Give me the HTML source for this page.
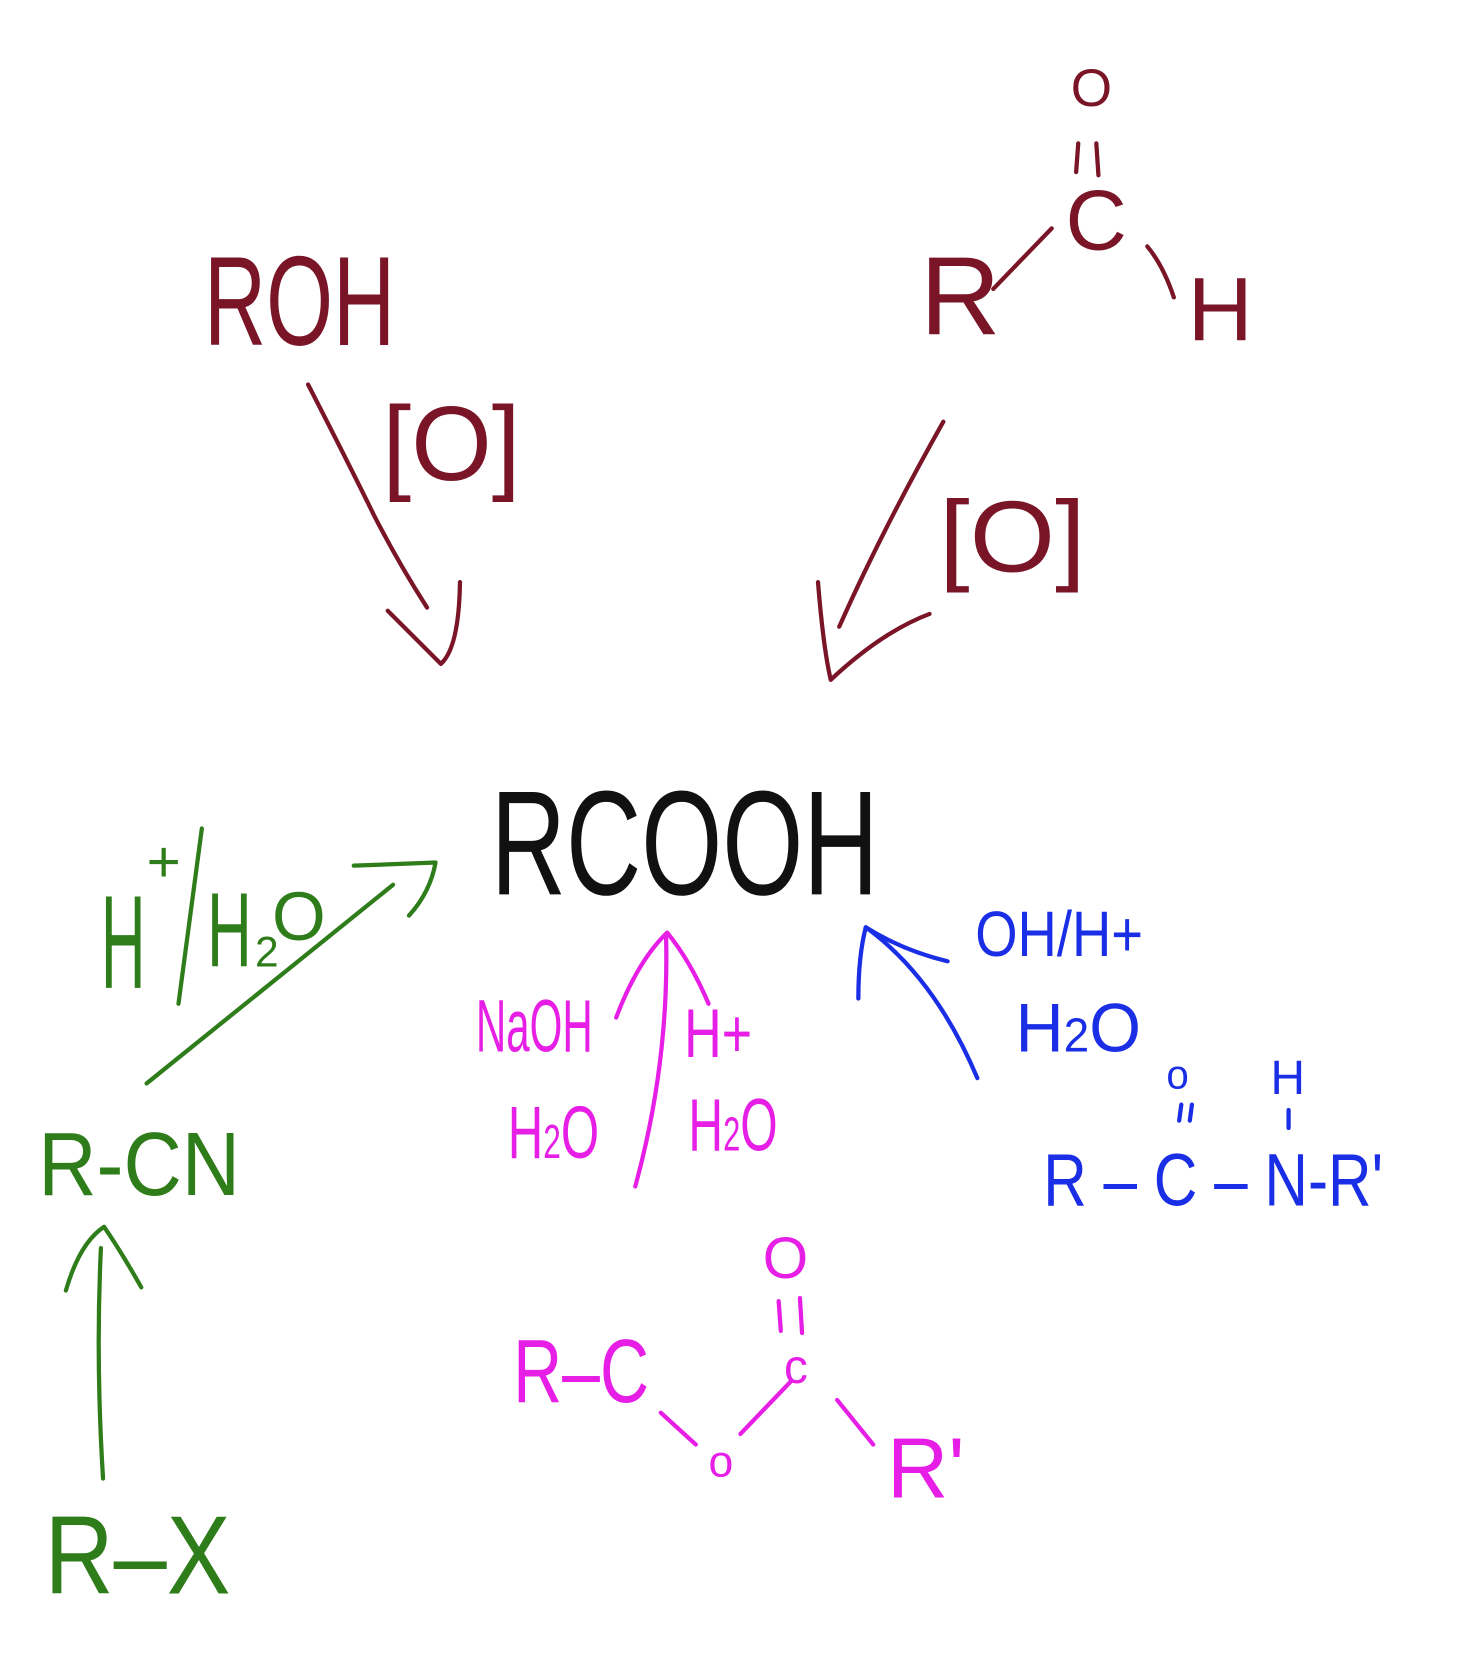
<!DOCTYPE html>
<html><head><meta charset="utf-8"><style>
html,body{margin:0;padding:0;background:#fff;}
svg{display:block;}
text{font-family:"Liberation Sans",sans-serif;}
</style></head><body>
<svg width="1466" height="1657" viewBox="0 0 1380 1560" preserveAspectRatio="none" xmlns="http://www.w3.org/2000/svg">
<g fill="none" stroke-linecap="round" stroke-linejoin="round" stroke-width="4">
<!-- maroon -->
<g stroke="#7a1528">
<path d="M290,362 Q330,440 352,485 Q375,530 402,572"/>
<path d="M365,575 L415,625 Q432,610 433,548"/>
<path d="M888,397 Q830,500 790,590"/>
<path d="M770,548 Q775,610 782,640 Q830,595 875,578"/>
<path d="M935,272 L990,215"/>
<path d="M1080,232 Q1095,250 1105,280"/>
<path d="M1015,135 L1013,162 M1032,135 L1034,165"/>
</g>
<!-- green -->
<g stroke="#2e7d1a">
<path d="M168,945 L190,780"/>
<path d="M138,1020 L370,833"/>
<path d="M333,815 L410,812 Q405,840 385,862"/>
<path d="M97,1392 Q90,1280 95,1175"/>
<path d="M62,1215 Q75,1170 98,1155 Q115,1180 133,1212"/>
</g>
<!-- magenta -->
<g stroke="#e61ee6">
<path d="M598,1117 Q630,1000 627,882"/>
<path d="M580,958 Q600,905 628,878 Q650,905 667,945"/>
<path d="M622,1330 L655,1360"/>
<path d="M697,1350 L745,1300"/>
<path d="M788,1318 L822,1360"/>
<path d="M733,1225 L735,1253 M753,1222 L755,1255"/>
</g>
<!-- blue -->
<g stroke="#1a2ee6">
<path d="M920,1015 Q880,920 815,873"/>
<path d="M808,940 Q808,900 815,873 Q850,895 892,905"/>
<path d="M1112,1040 L1110,1055 M1122,1040 L1120,1055"/>
<path d="M1213,1045 L1213,1062"/>
</g>
</g>
<!-- maroon text -->
<g fill="#7a1528">
<text x="192" y="325" font-size="120" textLength="180" lengthAdjust="spacingAndGlyphs">ROH</text>
<text x="360" y="452" font-size="100" textLength="130" lengthAdjust="spacingAndGlyphs">[O]</text>
<text x="884" y="538" font-size="95" textLength="138" lengthAdjust="spacingAndGlyphs">[O]</text>
<text x="1008" y="100" font-size="50">O</text>
<text x="1003" y="235" font-size="80">C</text>
<text x="866" y="315" font-size="105">R</text>
<text x="1118" y="320" font-size="85">H</text>
</g>
<text x="462" y="842" font-size="140" fill="#111" textLength="365" lengthAdjust="spacingAndGlyphs">RCOOH</text>
<!-- green text -->
<g fill="#2e7d1a">
<text x="95" y="930" font-size="125" textLength="42" lengthAdjust="spacingAndGlyphs">H</text>
<text x="138" y="830" font-size="55">+</text>
<text x="195" y="910" font-size="100" textLength="42" lengthAdjust="spacingAndGlyphs">H</text>
<text x="240" y="910" font-size="40">2</text>
<text x="256" y="885" font-size="65">O</text>
<text x="36" y="1125" font-size="85" textLength="190" lengthAdjust="spacingAndGlyphs">R-CN</text>
<text x="42" y="1500" font-size="105" textLength="175" lengthAdjust="spacingAndGlyphs">R–X</text>
</g>
<!-- magenta text -->
<g fill="#e61ee6">
<text x="448" y="990" font-size="70" textLength="110" lengthAdjust="spacingAndGlyphs">NaOH</text>
<text x="478" y="1090" font-size="70" textLength="86" lengthAdjust="spacingAndGlyphs">H<tspan font-size="45">2</tspan>O</text>
<text x="644" y="995" font-size="65" textLength="64" lengthAdjust="spacingAndGlyphs">H+</text>
<text x="648" y="1083" font-size="70" textLength="84" lengthAdjust="spacingAndGlyphs">H<tspan font-size="45">2</tspan>O</text>
<text x="483" y="1320" font-size="85" textLength="128" lengthAdjust="spacingAndGlyphs">R–C</text>
<text x="667" y="1390" font-size="42">o</text>
<text x="738" y="1302" font-size="45">c</text>
<text x="718" y="1203" font-size="55">O</text>
<text x="835" y="1410" font-size="80">R'</text>
</g>
<!-- blue text -->
<g fill="#1a2ee6">
<text x="918" y="900" font-size="60" textLength="158" lengthAdjust="spacingAndGlyphs">OH/H+</text>
<text x="956" y="990" font-size="65" textLength="118" lengthAdjust="spacingAndGlyphs">H<tspan font-size="45">2</tspan>O</text>
<text x="982" y="1135" font-size="70" textLength="320" lengthAdjust="spacingAndGlyphs">R – C – N-R'</text>
<text x="1098" y="1025" font-size="38">o</text>
<text x="1196" y="1030" font-size="45">H</text>
</g>
</svg>
</body></html>
